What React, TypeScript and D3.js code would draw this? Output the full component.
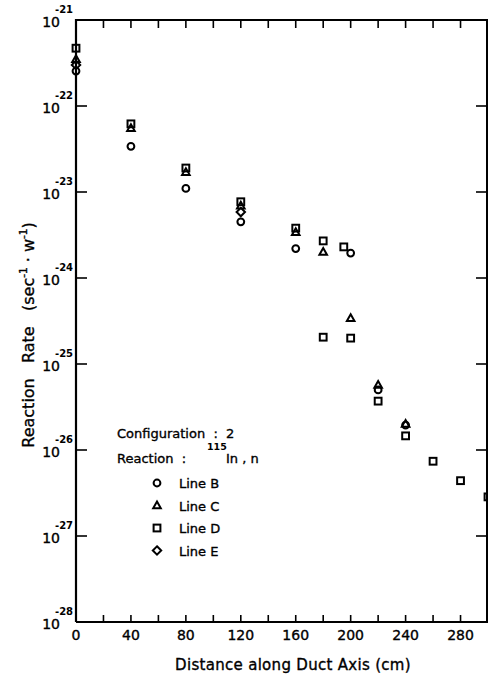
import React from "react";
import * as d3 from "d3";

const W = 488, H = 680;

// Data: [distance cm, reaction rate]
const lineB: [number, number][] = [
  [0, 2.55e-22], [40, 3.4e-23], [80, 1.1e-23], [120, 4.5e-24], [160, 2.2e-24],
  [200, 1.95e-24], [220, 5.0e-26], [240, 1.95e-26],
];
const lineC: [number, number][] = [
  [0, 3.5e-22], [40, 5.5e-23], [80, 1.7e-23], [120, 6.9e-24], [160, 3.4e-24],
  [180, 2.0e-24], [200, 3.4e-25], [220, 5.7e-26], [240, 2.0e-26],
];
const lineD: [number, number][] = [
  [0, 4.7e-22], [40, 6.2e-23], [80, 1.9e-23], [120, 7.7e-24], [160, 3.8e-24],
  [180, 2.7e-24], [195, 2.3e-24], [180, 2.05e-25], [200, 2.0e-25], [220, 3.7e-26],
  [240, 1.46e-26], [260, 7.4e-27], [280, 4.4e-27], [300, 2.85e-27],
];
const lineE: [number, number][] = [
  [0, 3.0e-22], [120, 5.85e-24],
];

const xTickLabels = [0, 40, 80, 120, 160, 200, 240, 280];
const xMinorTicks = d3.range(0, 301, 20);
const yExponents = [-21, -22, -23, -24, -25, -26, -27, -28];

const legendItems = [
  { label: "Line B", shape: "circle" },
  { label: "Line C", shape: "triangle" },
  { label: "Line D", shape: "square" },
  { label: "Line E", shape: "diamond" },
];

const FONT = "'DejaVu Sans', 'Liberation Sans', sans-serif";
const TXT = { fill: "#000", stroke: "#000", strokeWidth: 0.35 };

function Marker({ shape, x, y }: { shape: string; x: number; y: number }) {
  const sw = 2;
  if (shape === "circle") return <circle cx={x} cy={y} r={3.4} fill="none" stroke="#000" strokeWidth={sw} />;
  if (shape === "square") return <rect x={x - 3.4} y={y - 3.4} width={6.8} height={6.8} fill="none" stroke="#000" strokeWidth={sw} />;
  if (shape === "triangle") return <path d={`M${x},${y - 4}L${x + 3.8},${y + 2.7}L${x - 3.8},${y + 2.7}Z`} fill="none" stroke="#000" strokeWidth={sw} />;
  return <path d={`M${x},${y - 4.2}L${x + 4.2},${y}L${x},${y + 4.2}L${x - 4.2},${y}Z`} fill="none" stroke="#000" strokeWidth={sw} />;
}

export default function App() {
  const x = d3.scaleLinear().domain([0, 300]).range([76, 488]);
  const y = d3.scaleLog().domain([1e-28, 1e-21]).range([622, 20]);
  const left = x(0), right = x(300), top = y(1e-21), bottom = y(1e-28);

  const series = [
    { data: lineB, shape: "circle" },
    { data: lineC, shape: "triangle" },
    { data: lineD, shape: "square" },
    { data: lineE, shape: "diamond" },
  ];

  return (
    <svg width={W} height={H} style={{ position: "absolute", left: 0, top: 0, background: "#fff" }} fontFamily={FONT}>
      <rect width={W} height={H} fill="#fff" />
      {/* frame */}
      <path d={`M${left},${bottom}V${top}H${right}`} fill="none" stroke="#000" strokeWidth={2.2} />
      <path d={`M${left},${bottom}H${right}`} fill="none" stroke="#000" strokeWidth={2.2} />
      <line x1={right - 1} x2={right - 1} y1={top} y2={bottom} stroke="#000" strokeWidth={2} />
      {/* x ticks */}
      {xMinorTicks.map((t) => (
        <g key={"xt" + t}>
          <line x1={x(t)} x2={x(t)} y1={bottom} y2={bottom - 7} stroke="#000" strokeWidth={1.6} />
          <line x1={x(t)} x2={x(t)} y1={top} y2={top + 8} stroke="#000" strokeWidth={1.6} />
        </g>
      ))}
      {xTickLabels.map((t) => (
        <text key={"xl" + t} x={x(t)} y={bottom + 18} textAnchor="middle" fontSize={14} {...TXT}>{t}</text>
      ))}
      {/* y ticks */}
      {yExponents.map((e) => {
        const yy = y(Math.pow(10, e));
        return (
          <g key={"yt" + e}>
            {e !== -21 && e !== -28 && (
              <>
                <line x1={left} x2={left + 11} y1={yy} y2={yy} stroke="#000" strokeWidth={1.6} />
                <line x1={right - 1} x2={right - 12} y1={yy} y2={yy} stroke="#000" strokeWidth={1.6} />
              </>
            )}
            <text x={60} y={yy + 7} textAnchor="end" fontSize={14} {...TXT}>10</text>
            <text x={55} y={yy - 7.5} textAnchor="start" fontSize={10} fontWeight="bold" fill="#000">{e}</text>
          </g>
        );
      })}
      {/* data */}
      {series.map((s, i) =>
        s.data.map((d, j) => <Marker key={`m${i}-${j}`} shape={s.shape} x={x(d[0])} y={y(d[1])} />)
      )}
      {/* legend */}
      <text x={117} y={438} fontSize={13} {...TXT} style={{ whiteSpace: "pre" }}>{"Configuration  :  2"}</text>
      <text x={117} y={463} fontSize={13} {...TXT} style={{ whiteSpace: "pre" }}>{"Reaction  :"}</text>
      <text x={207} y={450} fontSize={9.5} fontWeight="bold" fill="#000">115</text>
      <text x={226} y={463} fontSize={13} {...TXT} style={{ whiteSpace: "pre" }}>{"In , n"}</text>
      {legendItems.map((it, i) => {
        const yy = 483 + i * 22.5;
        return (
          <g key={"lg" + i}>
            <Marker shape={it.shape} x={157} y={yy} />
            <text x={179} y={yy + 5} fontSize={13} {...TXT}>{it.label}</text>
          </g>
        );
      })}
      {/* axis titles */}
      <text x={293} y={670} textAnchor="middle" fontSize={15} {...TXT} letterSpacing={0.3}>Distance along Duct Axis (cm)</text>
      <text transform="translate(34,335) rotate(-90)" textAnchor="middle" fontSize={16} {...TXT} style={{ whiteSpace: "pre" }}>
        {"Reaction   Rate   (sec"}
        <tspan fontSize={10.5} dy={-7}>-1</tspan>
        <tspan dy={7}>{" · w"}</tspan>
        <tspan fontSize={10.5} dy={-7}>-1</tspan>
        <tspan dy={7}>)</tspan>
      </text>
    </svg>
  );
}
